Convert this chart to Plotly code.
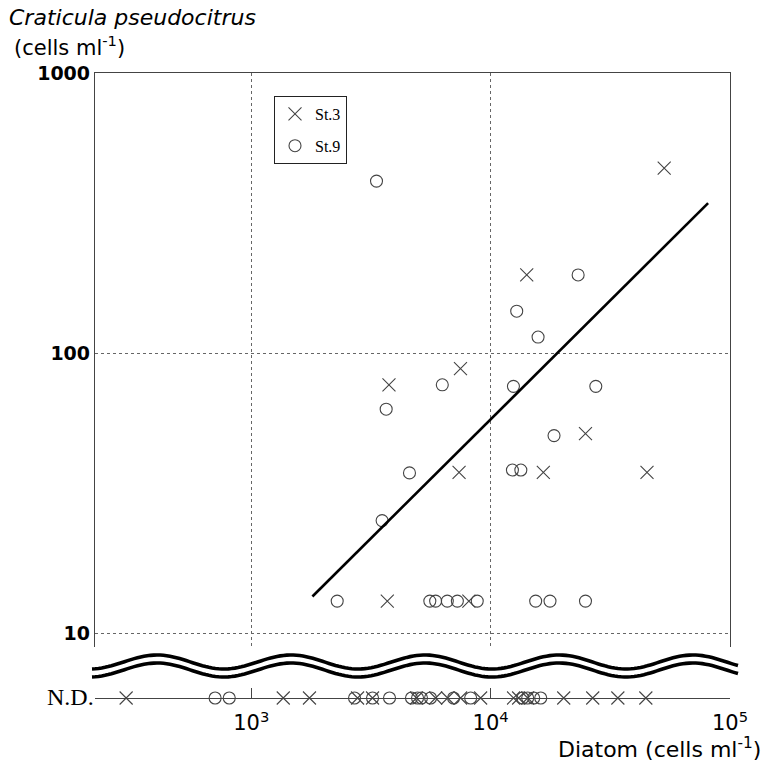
import numpy as np
import plotly.graph_objects as go

# ---------------- data ----------------
st3_x = [7480, 3760, 7380, 3700, 8110, 53100, 14150, 24900, 16600, 45000]
st3_y = [88, 77, 37.5, 13, 13, 457, 190, 51.5, 37.5, 37.5]

st9_x = [3335, 6280, 3660, 4580, 3520, 2285, 5570, 5890, 6590, 7260, 8790,
         23200, 12850, 15780, 12450, 27500, 18400, 12330, 13370, 15420, 17700, 24900]
st9_y = [411, 77, 63, 37.3, 25.2, 13, 13, 13, 13, 13, 13,
         190, 141, 114, 76, 76, 50.7, 38.2, 38.2, 13, 13, 13]

# not detected (N.D.) samples: diatom density only
st3_nd_x = [300, 1360, 1750, 2780, 3210, 4900, 5890, 6610, 7490, 9080,
            12470, 13090, 14280, 20200, 26700, 34000, 44500]
st9_nd_x = [706, 809, 2700, 3210, 3780, 4670, 4950, 5140, 5610, 7000, 8250,
            13610, 14280, 15130, 16190]

fit_x = [1800, 81000]
fit_y = [13.5, 343]

y_ticks = [10, 100, 1000]
y_ticktext = ["10", "100", "1000"]
x_ticks = [1e3, 1e4, 1e5]
x_ticktext = ["10<sup>3</sup>", "10<sup>4</sup>", "10<sup>5</sup>"]

# ---------------- figure ----------------
W, H = 766, 766
ML, MR, MT, MB = 95, 36, 73, 68
PW, PH = W - ML - MR, H - MT - MB

def px2paper(px, py):
    return (px - ML) / PW, (H - MB - py) / PH

XR = [2.347, 5.0]
mk_col = "#444444"

x_marker = dict(symbol="x-thin-open", size=13, color=mk_col, line=dict(color=mk_col, width=1.1))
o_marker = dict(symbol="circle-open", size=12, color=mk_col, line=dict(color=mk_col, width=1.1))

fig = go.Figure()

fig.add_trace(go.Scatter(x=st3_x, y=st3_y, mode="markers", name="St.3", legendgroup="a",
                         marker=x_marker, xaxis="x", yaxis="y"))
fig.add_trace(go.Scatter(x=st9_x, y=st9_y, mode="markers", name="St.9", legendgroup="b",
                         marker=o_marker, xaxis="x", yaxis="y"))
fig.add_trace(go.Scatter(x=fit_x, y=fit_y, mode="lines", showlegend=False,
                         line=dict(color="black", width=2.6), xaxis="x", yaxis="y"))

fig.add_trace(go.Scatter(x=st3_nd_x, y=[0] * len(st3_nd_x), mode="markers", showlegend=False,
                         legendgroup="a", marker=x_marker, xaxis="x2", yaxis="y2", cliponaxis=False))
fig.add_trace(go.Scatter(x=st9_nd_x, y=[0] * len(st9_nd_x), mode="markers", showlegend=False,
                         legendgroup="b", marker=o_marker, xaxis="x2", yaxis="y2", cliponaxis=False))

axcol = "#444"
gridcol = "#666"
ydom0 = (H - MB - 647) / PH

fig.update_layout(
    width=W, height=H,
    margin=dict(l=ML, r=MR, t=MT, b=MB),
    paper_bgcolor="white", plot_bgcolor="white",
    font=dict(family="DejaVu Sans", color="black"),
    xaxis=dict(type="log", range=XR, domain=[0, 1], anchor="y", side="top",
               showline=True, linecolor=axcol, linewidth=1.3,
               tickvals=x_ticks, showticklabels=False, ticks="",
               showgrid=True, gridcolor=gridcol, gridwidth=1, griddash="dot",
               zeroline=False),
    yaxis=dict(type="log", range=[0.95, 3], domain=[ydom0, 1], anchor="x",
               showline=True, mirror=True, linecolor=axcol, linewidth=1.3,
               tickvals=y_ticks, ticktext=y_ticktext, ticks="", ticklen=0,
               tickfont=dict(size=19, weight="bold", family="DejaVu Sans"),
               ticklabelstandoff=0,
               showgrid=True, gridcolor=gridcol, gridwidth=1, griddash="dot",
               zeroline=False),
    xaxis2=dict(type="log", range=XR, domain=[0, 1], anchor="y2",
                showline=True, linecolor=axcol, linewidth=1.3,
                tickvals=x_ticks, ticktext=x_ticktext, ticks="inside", ticklen=10,
                tickcolor=axcol, tickwidth=1.3, ticklabelstandoff=6,
                tickfont=dict(size=21, family="DejaVu Sans"),
                showgrid=False, zeroline=False),
    yaxis2=dict(domain=[0, 0.03], range=[0, 1], anchor="x2", visible=False),
    legend=dict(x=(274 - ML) / PW, y=(H - MB - 96) / PH, xanchor="left", yanchor="top",
                bgcolor="white", bordercolor="#222", borderwidth=1,
                font=dict(family="Liberation Serif", size=16, color="black"),
                traceorder="grouped", tracegroupgap=8, itemwidth=30),
    showlegend=True,
)

# y-axis title (top-left)
fig.add_annotation(text="<i>Craticula pseudocitrus</i>", xref="paper", yref="paper",
                   x=px2paper(7, 0)[0], y=px2paper(0, 18)[1], xanchor="left", yanchor="middle",
                   showarrow=False, font=dict(size=22, family="DejaVu Sans"))
fig.add_annotation(text="(cells ml<sup>-1</sup>)", xref="paper", yref="paper",
                   x=px2paper(12, 0)[0], y=px2paper(0, 46)[1], xanchor="left", yanchor="middle",
                   showarrow=False, font=dict(size=21, family="DejaVu Sans"))
# x-axis title
fig.add_annotation(text="Diatom (cells ml<sup>-1</sup>)", xref="paper", yref="paper",
                   x=px2paper(763, 0)[0], y=px2paper(0, 748)[1], xanchor="right", yanchor="middle",
                   showarrow=False, font=dict(size=22, family="DejaVu Sans"))
# N.D. label
fig.add_annotation(text="N.D.", xref="paper", yref="paper",
                   x=px2paper(96, 0)[0], y=px2paper(0, 697)[1], xanchor="right", yanchor="middle",
                   showarrow=False, font=dict(size=24, family="Liberation Serif"))

# axis-break wavy double line
xs = np.linspace(92, 738, 200)
for c in (662, 670):
    ys = c - 7 * np.cos(2 * np.pi * (xs - 157) / 134)
    pts = [px2paper(a, b) for a, b in zip(xs, ys)]
    path = "M " + " L ".join(f"{p[0]:.5f},{p[1]:.5f}" for p in pts)
    fig.add_shape(type="path", path=path, xref="paper", yref="paper",
                  line=dict(color="black", width=3.6))

fig.write_html("out.html", config={"displayModeBar": False},
               post_script="document.body.style.margin='0';")
